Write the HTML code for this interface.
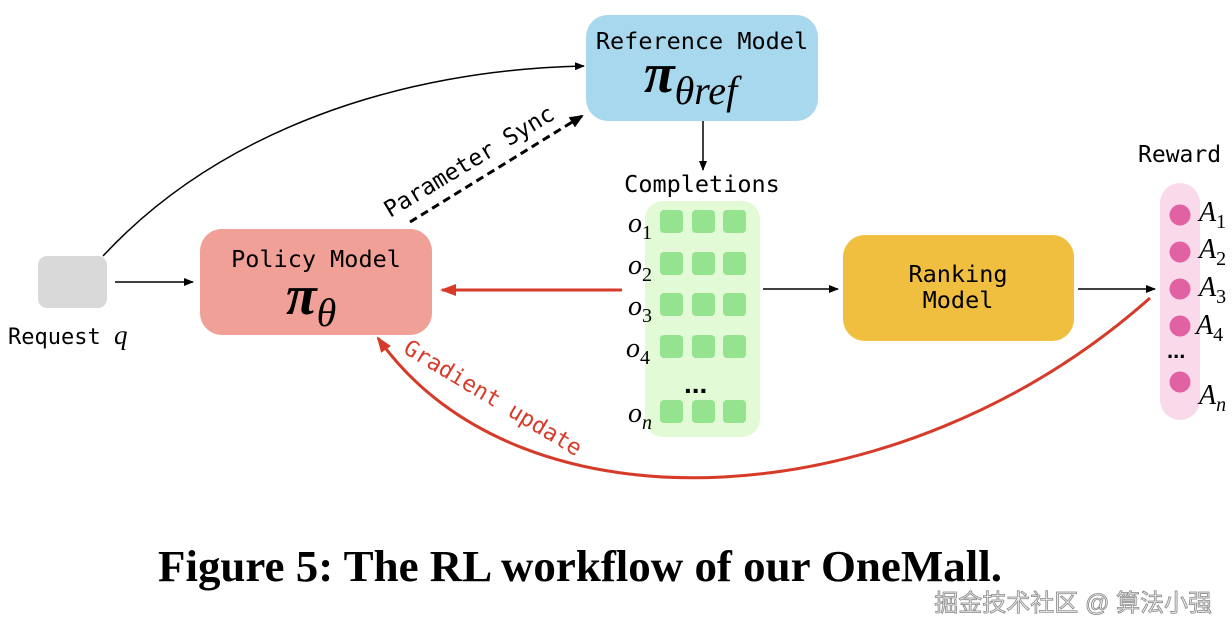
<!DOCTYPE html>
<html><head><meta charset="utf-8"><style>
body{margin:0;background:#fff;}
svg{display:block}
.m{font-family:"DejaVu Sans Mono","Liberation Mono",monospace;}
.s{font-family:"Liberation Serif",serif;font-style:italic;}
.u{font-style:normal;}
</style></head><body>
<svg width="1232" height="634" viewBox="0 0 1232 634">
<defs>
<marker id="ab" markerWidth="10" markerHeight="8" refX="9" refY="4" orient="auto" markerUnits="userSpaceOnUse"><path d="M0,0 L10,4 L0,8 Z" fill="#000"/></marker>
<marker id="ab2" markerWidth="14" markerHeight="12" refX="12" refY="6" orient="auto" markerUnits="userSpaceOnUse"><path d="M0,0 L14,6 L0,12 Z" fill="#000"/></marker>
<marker id="ar" markerWidth="16" markerHeight="12" refX="14" refY="6" orient="auto" markerUnits="userSpaceOnUse"><path d="M0,0 L16,6 L0,12 Z" fill="#d63b2a"/></marker>
</defs>
<!-- request -->
<rect x="38" y="256" width="69" height="52" rx="9" fill="#d9d9d9"/>
<text x="8" y="344" class="m" font-size="22">Request <tspan class="s" font-size="27">q</tspan></text>
<line x1="115" y1="282" x2="193" y2="282" stroke="#000" stroke-width="1.5" marker-end="url(#ab)"/>
<!-- policy -->
<rect x="200" y="229" width="232" height="106" rx="22" fill="#f0a096"/>
<text x="316" y="267" class="m" font-size="23.5" text-anchor="middle">Policy Model</text>
<text x="286" y="314" font-family="Liberation Serif,serif" font-weight="bold" font-style="italic" font-size="56">π<tspan class="s" font-weight="normal" font-size="40" dy="12">θ</tspan></text>
<!-- reference -->
<rect x="586" y="15" width="232" height="106" rx="22" fill="#a8d8ee"/>
<text x="702" y="49" class="m" font-size="23.5" text-anchor="middle">Reference Model</text>
<text x="644" y="92" font-family="Liberation Serif,serif" font-weight="bold" font-style="italic" font-size="56">π<tspan class="s" font-weight="normal" font-size="40" dy="12">θref</tspan></text>
<line x1="703" y1="121" x2="703" y2="170" stroke="#000" stroke-width="1.5" marker-end="url(#ab)"/>
<!-- curve request->ref -->
<path d="M103,256 C220,130 400,70 584,66" fill="none" stroke="#000" stroke-width="1.5" marker-end="url(#ab)"/>
<!-- param sync -->
<line x1="410" y1="222" x2="582" y2="116" stroke="#000" stroke-width="3" stroke-dasharray="8,5" marker-end="url(#ab2)"/>
<text class="m" font-size="23" transform="translate(390,218) rotate(-31)">Parameter Sync</text>
<!-- completions -->
<text x="702" y="192" class="m" font-size="23.5" text-anchor="middle">Completions</text>
<rect x="645" y="201" width="115" height="236" rx="18" fill="#e3fad7"/>
<g fill="#95e38f">
<rect x="660" y="210" width="23" height="23" rx="4"/><rect x="692" y="210" width="23" height="23" rx="4"/><rect x="723" y="210" width="23" height="23" rx="4"/>
<rect x="660" y="252" width="23" height="23" rx="4"/><rect x="692" y="252" width="23" height="23" rx="4"/><rect x="723" y="252" width="23" height="23" rx="4"/>
<rect x="660" y="293" width="23" height="23" rx="4"/><rect x="692" y="293" width="23" height="23" rx="4"/><rect x="723" y="293" width="23" height="23" rx="4"/>
<rect x="660" y="335" width="23" height="23" rx="4"/><rect x="692" y="335" width="23" height="23" rx="4"/><rect x="723" y="335" width="23" height="23" rx="4"/>
<rect x="660" y="400" width="23" height="23" rx="4"/><rect x="692" y="400" width="23" height="23" rx="4"/><rect x="723" y="400" width="23" height="23" rx="4"/>
</g>
<text x="684" y="393" font-family="Liberation Sans,sans-serif" font-weight="bold" font-size="28">...</text>
<g class="s" font-size="28">
<text x="628" y="232">o<tspan class="u" font-size="20" dy="7">1</tspan></text>
<text x="628" y="274">o<tspan class="u" font-size="20" dy="7">2</tspan></text>
<text x="628" y="315">o<tspan class="u" font-size="20" dy="7">3</tspan></text>
<text x="626" y="357">o<tspan class="u" font-size="20" dy="7">4</tspan></text>
<text x="628" y="422">o<tspan font-size="20" dy="7">n</tspan></text>
</g>
<line x1="622" y1="290" x2="442" y2="290" stroke="#d63b2a" stroke-width="3" marker-end="url(#ar)"/>
<line x1="763" y1="289" x2="838" y2="289" stroke="#000" stroke-width="1.5" marker-end="url(#ab)"/>
<!-- ranking -->
<rect x="843" y="235" width="231" height="106" rx="22" fill="#f0bf40"/>
<text x="958" y="282" class="m" font-size="23.5" text-anchor="middle">Ranking</text>
<text x="958" y="308" class="m" font-size="23.5" text-anchor="middle">Model</text>
<line x1="1078" y1="289" x2="1155" y2="289" stroke="#000" stroke-width="1.5" marker-end="url(#ab)"/>
<!-- reward -->
<text x="1138" y="162" class="m" font-size="23">Reward</text>
<rect x="1160" y="183" width="40" height="237" rx="20" fill="#fadaea"/>
<g fill="#e062a3">
<circle cx="1180" cy="215" r="10.5"/><circle cx="1180" cy="252" r="10.5"/><circle cx="1180" cy="289" r="10.5"/><circle cx="1180" cy="326" r="10.5"/><circle cx="1180" cy="382" r="10.5"/>
</g>
<text x="1167" y="358" font-family="Liberation Sans,sans-serif" font-weight="bold" font-size="22">...</text>
<g class="s" font-size="28">
<text x="1199" y="221">A<tspan class="u" font-size="20" dy="7">1</tspan></text>
<text x="1199" y="258">A<tspan class="u" font-size="20" dy="7">2</tspan></text>
<text x="1199" y="296">A<tspan class="u" font-size="20" dy="7">3</tspan></text>
<text x="1196" y="334">A<tspan class="u" font-size="20" dy="7">4</tspan></text>
<text x="1199" y="404">A<tspan font-size="20" dy="7">n</tspan></text>
</g>
<!-- gradient -->
<path d="M1150,298 C900,520 520,540 378,338" fill="none" stroke="#d63b2a" stroke-width="3" marker-end="url(#ar)"/>
<text class="m" font-size="22.5" fill="#d63b2a" transform="translate(402,352) rotate(31)">Gradient update</text>
<!-- caption -->
<text x="158" y="581" font-family="Liberation Serif,serif" font-weight="bold" font-size="44" textLength="844" lengthAdjust="spacingAndGlyphs">Figure 5: The RL workflow of our OneMall.</text>
<text x="1212" y="611" font-family="Liberation Sans,'Noto Sans CJK SC',sans-serif" font-size="24" fill="#eee" stroke="#888" stroke-width="0.8" text-anchor="end">掘金技术社区 @ 算法小强</text>
</svg>
</body></html>
